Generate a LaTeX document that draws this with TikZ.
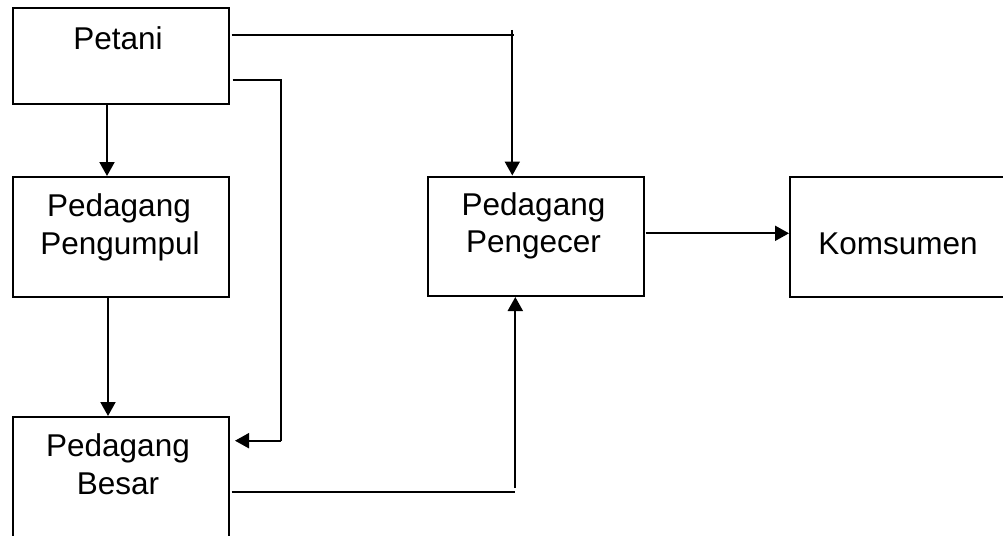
\documentclass[tikz,border=0pt]{standalone}
\usepackage{fontspec}
\setmainfont{Liberation Sans}
\usetikzlibrary{arrows.meta}

\begin{document}
\begin{tikzpicture}[x=1pt,y=-1pt,
  box/.style={draw=black, line width=2pt, rectangle, inner sep=0pt, anchor=north west},
  lbl/.style={anchor=base, inner sep=0pt, font=\fontsize{31.5}{38}\selectfont},
  link/.style={draw=black, line width=2pt},
  arr/.style={link, -{Triangle[length=14pt,width=15pt]}}]

\useasboundingbox (0,0) rectangle (1003,535);
\clip (0,0) rectangle (1003,535);
\fill[white] (0,0) rectangle (1003,535);

% boxes
\node[box, minimum width=216pt, minimum height=95pt]  (petani)    at (11.5,7.5) {};
\node[box, minimum width=216pt, minimum height=119.5pt] (pengumpul) at (11.5,176) {};
\node[box, minimum width=216pt, minimum height=150pt] (besar)     at (11.5,416) {};
\node[box, minimum width=215.5pt, minimum height=119.5pt] (pengecer) at (427,175.5) {};
\node[box, minimum width=220pt, minimum height=119.5pt] (komsumen) at (789,176) {};

% labels
\node[lbl] (tPetani) at (118,50) {Petani};
\node[lbl] (tPengumpul1) at (119,216.7) {Pedagang};
\node[lbl] (tPengumpul2) at (120,254.3) {Pengumpul};
\node[lbl] (tBesar1) at (118,456) {Pedagang};
\node[lbl] (tBesar2) at (118,494.3) {Besar};
\node[lbl] (tPengecer1) at (533.5,215.7) {Pedagang};
\node[lbl] (tPengecer2) at (533.5,252.3) {Pengecer};
\node[lbl] (tKomsumen) at (898,254.3) {Komsumen};

% bend points
\coordinate (topTurn) at (512.3,35);
\coordinate (topEnd) at (514,35);
\coordinate (topStart) at (512.3,30);
\coordinate (sideTurn) at (281.3,80);
\coordinate (sideDown) at (281.3,440.7);
\coordinate (lowTurn) at (515,491.7);
\coordinate (lowUp) at (515.3,488);

% connectors
\draw[arr] ([xshift=-13.5pt]petani.south) -- ([xshift=-13.5pt]pengumpul.north);
\draw[arr] ([xshift=-12.5pt]pengumpul.south) -- ([xshift=-12.5pt]besar.north);

\draw[link, shorten <=2pt] (petani.east |- topEnd) -- (topEnd);
\draw[arr] (topStart) -- (topStart |- pengecer.north);

\draw[link, shorten <=3pt] (petani.east |- sideTurn) -- (sideTurn) -- (sideDown);
\draw[arr, shorten >=5.5pt] (sideDown) -- (besar.east |- sideDown);

\draw[link, shorten <=2pt] (besar.east |- lowTurn) -- (lowTurn);
\draw[arr] (lowUp) -- (lowUp |- pengecer.south);

\draw[arr, shorten <=1pt] (pengecer.east |- 0,233.3) -- (komsumen.west |- 0,233.3);
\end{tikzpicture}
\end{document}
